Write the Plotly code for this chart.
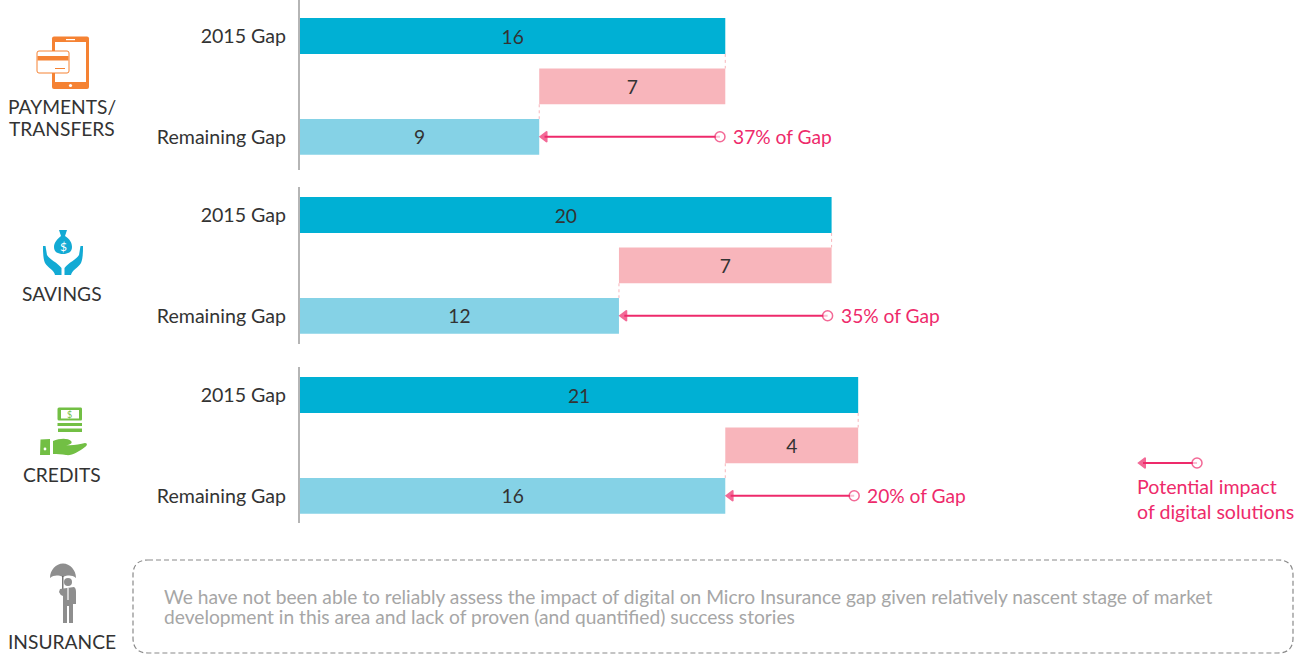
import plotly.graph_objects as go

# values
segments = ['PAYMENTS/<br>TRANSFERS', 'SAVINGS', 'CREDITS', 'INSURANCE']
row_labels = ['2015 Gap', 'Remaining Gap']
gap_2015 = [16, 20, 21]
remaining_gap = [9, 12, 16]
impact_labels = [7, 7, 4]
impact_notes = ['37% of Gap', '35% of Gap', '20% of Gap']
arrow_tip = [9.2, 12.2, 16.2]
arrow_tail = [15.8, 19.85, 20.85]
insurance_note = [
    'We have not been able to reliably assess the impact of digital on Micro Insurance gap given relatively nascent stage of market',
    'development in this area and lack of proven (and quantified) success stories',
]
legend_note = ['Potential impact', 'of digital solutions']

TEAL = '#00B0D4'
LIGHT = '#85D2E6'
ROSE = '#F8B5BB'
PINK = '#EE2A6B'
INK = '#333333'
FONT = 'Lato'
SIZE = 19.2

W, H = 1306, 654
AXIS_PX = 300
PX_PER_UNIT = 26.58
PITCH = 50.4
# top/bottom of each axis line and centre of the first row, in page pixels
panels = [(0, 170, 36), (187, 344, 215), (367, 523, 395)]

fig = go.Figure()

x_range = [0, (W - AXIS_PX) / PX_PER_UNIT]
layout = {}
for i, (top, bottom, centre) in enumerate(panels):
    n = '' if i == 0 else str(i + 1)
    layout['xaxis' + n] = dict(domain=[AXIS_PX / W, 1], range=x_range, visible=False, anchor='y' + n, fixedrange=True)
    layout['yaxis' + n] = dict(
        domain=[1 - bottom / H, 1 - top / H],
        range=[(bottom - centre) / PITCH, (top - centre) / PITCH],
        anchor='x' + n,
        tickmode='array',
        tickvals=[0, 2],
        ticktext=row_labels,
        ticks='',
        ticklabelstandoff=8,
        tickfont=dict(family=FONT, size=19.6, color=INK),
        showgrid=False,
        zeroline=False,
        showline=True,
        linecolor='#B5B5B5',
        linewidth=2,
        fixedrange=True,
    )

    xa, ya = 'x' + n, 'y' + n
    fig.add_trace(go.Bar(
        y=[0, 1, 2],
        x=[gap_2015[i], gap_2015[i] - remaining_gap[i], remaining_gap[i]],
        base=[0, remaining_gap[i], 0],
        orientation='h',
        width=0.71,
        marker=dict(color=[TEAL, ROSE, LIGHT], line=dict(width=0)),
        text=[gap_2015[i], impact_labels[i], remaining_gap[i]],
        textposition='inside',
        insidetextanchor='middle',
        textangle=0,
        constraintext='none',
        textfont=dict(family=FONT, size=SIZE, color=INK),
        xaxis=xa, yaxis=ya, showlegend=False,
    ))
    # dotted steps between the bars
    fig.add_trace(go.Scatter(
        x=[gap_2015[i], gap_2015[i], None, remaining_gap[i], remaining_gap[i]],
        y=[0.355, 0.645, None, 1.355, 1.645],
        mode='lines',
        line=dict(color=ROSE, width=1, dash='dot'),
        xaxis=xa, yaxis=ya, showlegend=False,
    ))
    fig.add_trace(go.Scatter(
        x=[arrow_tip[i], arrow_tail[i]],
        y=[2, 2],
        mode='lines+markers',
        line=dict(color=PINK, width=2),
        marker=dict(
            symbol=['triangle-left', 'circle'],
            size=[9, 10],
            color=[PINK, 'white'],
            line=dict(color=PINK, width=1.5),
        ),
        xaxis=xa, yaxis=ya, showlegend=False,
    ))

# invisible page-sized axes, used for the icons, box and free text
layout['xaxis4'] = dict(domain=[0, 1], range=[0, W], visible=False, anchor='y4', fixedrange=True)
layout['yaxis4'] = dict(domain=[0, 1], range=[H, 0], visible=False, anchor='x4', fixedrange=True)
fig.add_trace(go.Scatter(
    x=[1143, 1197], y=[463, 463],
    mode='lines+markers',
    line=dict(color=PINK, width=2),
    marker=dict(symbol=['triangle-left', 'circle'], size=[9, 10], color=[PINK, 'white'], line=dict(color=PINK, width=1.5)),
    xaxis='x4', yaxis='y4', showlegend=False,
))


def txt(text, x, y, color=INK, anchor='left', size=SIZE):
    return dict(text=text, x=x, y=y, xref='x4', yref='y4', xanchor=anchor, yanchor='middle',
                showarrow=False, align=anchor, font=dict(family=FONT, size=size, color=color))


def blob(path, color, line=0):
    return dict(type='path', path=path, xref='x4', yref='y4', fillcolor=color,
                line=dict(color=color, width=line))


def rect(x0, y0, x1, y1, color):
    return dict(type='rect', x0=x0, y0=y0, x1=x1, y1=y1, xref='x4', yref='y4', fillcolor=color, line=dict(width=0))


def dot(cx, cy, r, color):
    return dict(type='circle', x0=cx - r, y0=cy - r, x1=cx + r, y1=cy + r, xref='x4', yref='y4',
                fillcolor=color, line=dict(width=0))


annotations = []
names = [s.split('<br>') for s in segments]
annotations.append(txt(names[0][0], 62, 106, anchor='center'))
annotations.append(txt(names[0][1], 62, 128, anchor='center'))
annotations.append(txt(names[1][0], 62, 293, anchor='center'))
annotations.append(txt(names[2][0], 62, 474, anchor='center'))
annotations.append(txt(names[3][0], 62, 641, anchor='center'))

for i, note in enumerate(impact_notes):
    n = '' if i == 0 else str(i + 1)
    annotations.append(dict(text=note, x=arrow_tail[i], y=2, xref='x' + n, yref='y' + n, xanchor='left',
                            yanchor='middle', xshift=11, showarrow=False,
                            font=dict(family=FONT, size=SIZE, color=PINK)))

annotations.append(txt(insurance_note[0], 162, 596, color='#A6A6A6'))
annotations.append(txt(insurance_note[1], 162, 616, color='#A6A6A6'))
annotations.append(txt(legend_note[0], 1135, 486, color=PINK, size=19.6))
annotations.append(txt(legend_note[1], 1135, 511, color=PINK, size=19.6))

ORANGE = '#F58233'
GREEN = '#72BF44'
BLUE = '#12AAD4'
GREY = '#8E8E8E'
shapes = [
    # dashed box
    dict(type='path', xref='x4', yref='y4',
         path='M148,560 L1278,560 Q1293,560 1293,575 L1293,638 Q1293,653 1278,653 L148,653 Q133,653 133,638 L133,575 Q133,560 148,560 Z',
         line=dict(color='#8A8A8A', width=1.2, dash='5px,3px')),
    # phone and card
    blob('M54,36.5 L87,36.5 Q89,36.5 89,38.5 L89,87 Q89,89 87,89 L54,89 Q52,89 52,87 L52,38.5 Q52,36.5 54,36.5 Z', ORANGE),
    rect(55, 42, 86, 82, 'white'),
    rect(66, 39, 75, 40.2, 'white'),
    dot(70.5, 85.5, 1.6, 'white'),
    dict(type='path', xref='x4', yref='y4', fillcolor='white', line=dict(color=ORANGE, width=1),
         path='M39,51 L67,51 Q69,51 69,53 L69,71 Q69,73 67,73 L39,73 Q37,73 37,71 L37,53 Q37,51 39,51 Z'),
    rect(37.5, 56, 68.5, 60.5, ORANGE),
    rect(55, 68, 65, 69, ORANGE),
    # money bag and hands
    blob('M59,230 L67,230 L65,236 C70,239 72,243 72,247 C72,252 68,254 63,254 C58,254 54,252 54,247 C54,243 57,239 61,236 Z', BLUE),
    blob('M43,246 L45.5,246 L47,255 C50,260 57,262 61.5,268 L61.5,275 L55,275 C54,270 48,268 45,263 C43,258 43,252 43,246 Z', BLUE),
    blob('M83,246 L80.5,246 L79,255 C76,260 69,262 64.5,268 L64.5,275 L71,275 C72,270 78,268 81,263 C83,258 83,252 83,246 Z', BLUE),
    # banknotes and hand
    blob('M59,407.5 L81,407.5 Q82,407.5 82,409 L82,419 Q82,420.5 81,420.5 L59,420.5 Q57.5,420.5 57.5,419 L57.5,409 Q57.5,407.5 59,407.5 Z', GREEN),
    rect(61, 410, 79, 418.5, 'white'),
    rect(57.5, 423, 82, 426, GREEN),
    rect(58, 428.5, 82, 432, GREEN),
    blob('M40.5,439.5 L50,439 L50,455 L40,455 Z', GREEN),
    dot(45, 449, 1.4, 'white'),
    blob('M53,441 C60,438 68,438 71,441 C73,443 70,445 66,445 C72,446 80,444 85,443 C88,443 87,446 85,447 C78,452 72,456 66,455 C62,454 57,454 53,454 Z', GREEN),
    # umbrella man
    blob('M50,578 C50,570 56,563.5 63,563.5 C70,563.5 76,570 76,578 C72,575 68,575 63,577 C58,575 54,575 50,578 Z', GREY),
    rect(62.2, 576, 63.4, 591, '#555555'),
    dot(68, 582, 4, GREY),
    blob('M60,589 L74,587 Q76,588 76,592 L76,604 L73,604 L73,623 L69,623 L69,606 L67,606 L67,623 L63,623 L63,604 L63,596 Q60,595 59,592 Z', GREY),
    rect(67.4, 588, 68.6, 600, 'white'),
]

fig.update_layout(
    width=W, height=H,
    margin=dict(l=0, r=0, t=0, b=0),
    paper_bgcolor='white',
    plot_bgcolor='rgba(0,0,0,0)',  # the page-sized subplot sits on top of the others
    barmode='overlay',
    showlegend=False,
    hovermode=False,
    shapes=shapes,
    annotations=annotations + [
        txt('$', 63, 246, color='white', anchor='center', size=12),
        txt('$', 69.5, 414.5, color=GREEN, anchor='center', size=9),
    ],
    **layout,
)

fig.write_html("out.html", config=dict(displayModeBar=False), post_script="document.body.style.margin='0';")
